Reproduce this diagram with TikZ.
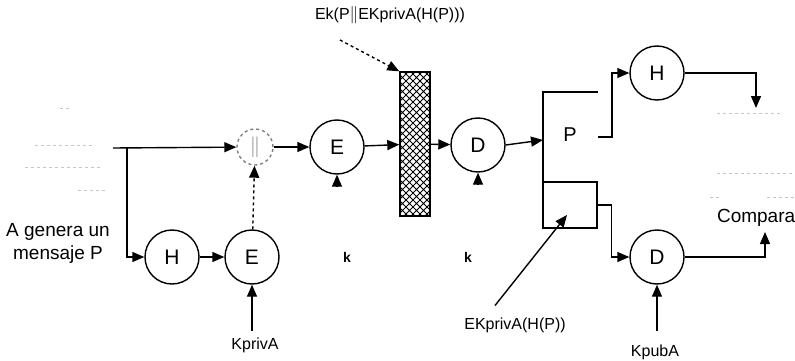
\documentclass[tikz,border=0pt]{standalone}
\usepackage{fontspec}
\setmainfont{Liberation Sans}
\usetikzlibrary{positioning,arrows.meta,calc,patterns}

\pgfdeclarepatternformonly{rejilla}{\pgfpoint{-1pt}{-1pt}}{\pgfpoint{8pt}{8pt}}{\pgfpoint{7pt}{7pt}}%
{\pgfsetlinewidth{0.9pt}\pgfpathmoveto{\pgfpointorigin}\pgfpathlineto{\pgfpoint{7pt}{7pt}}%
\pgfpathmoveto{\pgfpoint{0pt}{7pt}}\pgfpathlineto{\pgfpoint{7pt}{0pt}}\pgfusepath{stroke}}

\begin{document}
\begin{tikzpicture}[x=1pt,y=-1pt,>={Triangle[length=12pt,width=10pt]},line width=1.4pt,
  bola/.style={circle,draw,minimum size=54pt,inner sep=0pt,font=\fontsize{21}{21}\selectfont},
  etiq/.style={font=\fontsize{16}{18}\selectfont},
  tenue/.style={gray!45,dashed,line width=1pt}]
  \useasboundingbox (0,0) rectangle (795,361);
  % documento P y comparador (casi borrados)
  \draw[tenue] (25,167) -- (102,167); \draw[tenue] (78,190) -- (108,190);
  \draw[tenue] (60,108) -- (70,108); \draw[tenue] (35,145) -- (95,145);
  \draw[tenue] (717,113) -- (780,113); \draw[tenue] (717,173) -- (795,173);
  \draw[tenue] (767,197) -- (795,197); \draw[tenue] (710,197) -- (722,197);
  \coordinate (msg) at (113,148);
  \node[align=center,font=\fontsize{19}{23}\selectfont] (txtP) at (58,243) {A genera un\\mensaje P};
  % emisor
  \node[bola] (H1) at (172,257) {H};
  \node[bola] (E1) at (252,257) {E};
  \node[bola,minimum size=36pt,dashed,gray] (C) at (255,147) {$\|$};
  \node[bola] (E2) at (337,147) {E};
  \node[draw,pattern=rejilla,minimum width=30pt,minimum height=144pt,inner sep=0pt] (R) at (415,144) {};
  % receptor
  \node[bola] (D1) at (478,145) {D};
  \draw (598,92) -- (543,92) -- (543,182);
  \node[font=\fontsize{20}{20}\selectfont] (P) at (570,135) {P};
  \node[draw,minimum width=54pt,minimum height=46pt,inner sep=0pt] (B) at (570,205) {};
  \coordinate (pIn) at (543,140); \coordinate (pOut) at (598,137);
  \node[bola] (H2) at (657,73) {H};
  \node[bola] (D2) at (657,257) {D};
  \node[anchor=west,font=\fontsize{19}{21}\selectfont] (cmp) at (713,218) {Compara};
  % flechas
  \draw[->] (msg) -- (C);
  \draw[->] (127,148) |- (H1);
  \draw[->] (H1) -- (E1);
  \draw[->,dashed] (E1) -- (C);
  \draw[->] (C) -- (E2);
  \draw[->] (E2) -- (R);
  \draw[->] (R) -- (D1);
  \draw[->] (D1.east) -- (pIn);
  \draw[->] (pOut) -- ++(14,0) |- (H2);
  \draw[->] (H2) -| (756,108);
  \draw[->] (B.east) -- ++(14,0) |- (D2);
  \draw[->] (D2) -| (765,232);
  \draw[->] ($(E2.south)+(0,12)$) -- (E2.south);
  \draw[->] ($(D1.south)+(0,12)$) -- (D1.south);
  % claves
  \node[etiq] (kA) at (255,345) {KprivA};
  \draw[->] ($(E1.south)+(0,46)$) -- (E1.south);
  \node[etiq] (kB) at (655,352) {KpubA};
  \draw[->] ($(D2.south)+(0,46)$) -- (D2.south);
  \node[font=\bfseries\fontsize{14}{16}\selectfont] (k1) at (347,257) {k};
  \node[font=\bfseries\fontsize{14}{16}\selectfont] (k2) at (468,257) {k};
  % rotulos
  \node[etiq] (ek) at (390,15) {Ek(P$\|$EKprivA(H(P)))};
  \draw[->,dashed] (340,40) -- (R.north west);
  \node[etiq] (ekh) at (515,325) {EKprivA(H(P))};
  \draw[->] (ekh.north) ++(-20,-8) -- (567,215);
\end{tikzpicture}
\end{document}
